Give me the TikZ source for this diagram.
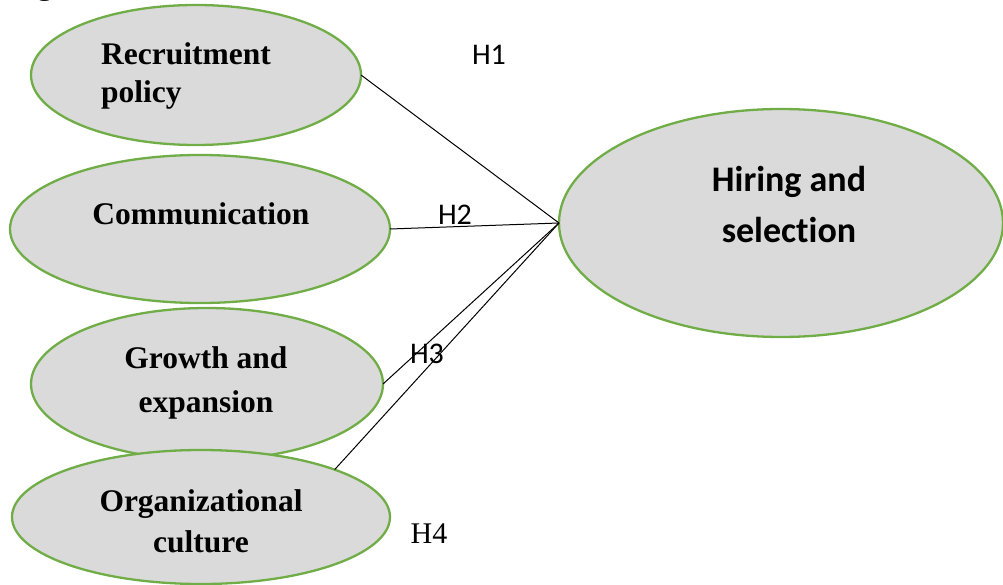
\documentclass[tikz,border=0pt]{standalone}
\usepackage{fontspec}
\setmainfont{Liberation Serif}
\newfontfamily\calibri[Ligatures=NoCommon]{Carlito}
\usetikzlibrary{shapes.geometric}

\definecolor{bubblefill}{HTML}{DADADA}
\definecolor{bubbleline}{HTML}{70AD47}

\tikzset{
  bubble/.style={ellipse, draw=bubbleline, fill=bubblefill, line width=2.3pt,
    inner sep=0pt, outer sep=0pt},
  factor/.style={font=\bfseries\fontsize{31.5}{44}\selectfont, align=center},
  hyp/.style={font=\calibri\fontsize{30}{36}\selectfont},
  link/.style={line width=1pt}
}

\begin{document}
\begin{tikzpicture}[x=1pt, y=-1pt]
      \useasboundingbox (0,0) rectangle (1003,585);

      % caption above, cut off by the page
      \node[font=\bfseries\fontsize{31.5}{36}\selectfont, anchor=base west, inner sep=0pt] (cap) at (37,-5) {g};

      % Draw the ellipses
      \node[bubble, minimum width=330pt, minimum height=140pt] (rec) at (196,75) {};
      \node[bubble, minimum width=380pt, minimum height=148pt] (comm) at (200,229) {};
      \node[bubble, minimum width=352pt, minimum height=152pt] (growth) at (207,384) {};
      \node[bubble, minimum width=378pt, minimum height=134pt] (org) at (201,517) {};
      \node[bubble, minimum width=444pt, minimum height=228pt] (hire) at (781,223) {};

      % Texts inside (base = baseline of the last line)
      \node[factor, align=left, font=\bfseries\fontsize{31.5}{38}\selectfont, anchor=base west, inner sep=0pt] (rectext) at (101,103) {Recruitment\\policy};
      \node[factor, anchor=base, inner sep=0pt] (commtext) at (201,225) {Communication};
      \node[factor, anchor=base, inner sep=0pt] (growthtext) at (206,412) {Growth and\\expansion};
      \node[factor, font=\bfseries\fontsize{31.5}{41}\selectfont, anchor=base, inner sep=0pt] (orgtext) at (201,552) {Organizational\\culture};
      \node[factor, font=\calibri\bfseries\fontsize{36}{51}\selectfont, anchor=base, inner sep=0pt] (hiretext) at (789,243) {Hiring and\\selection};

      % Connect them
      \draw[link] (rec.east) -- (hire.west);
      \draw[link] (comm.east) -- (hire.west);
      \draw[link] (growth.east) -- (hire.west);
      \draw[link] (org.north east) -- (hire.west);

      % Hypotheses
      \node[hyp, anchor=base, inner sep=0pt] (h1) at (489,65) {H1};
      \node[hyp, anchor=base, inner sep=0pt] (h2) at (455,225) {H2};
      \node[hyp, anchor=base, inner sep=0pt] (h3) at (427,363) {H3};
      \node[font=\fontsize{30}{36}\selectfont, anchor=base, inner sep=0pt] (h4) at (429,543) {H4};
    \end{tikzpicture}
\end{document}
